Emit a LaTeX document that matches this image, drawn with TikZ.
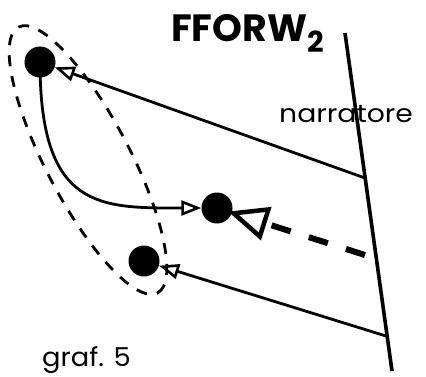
\documentclass[tikz,border=0pt]{standalone}
\usepackage{fontspec}
\setmainfont{Poppins}
\usetikzlibrary{arrows.meta,shapes.geometric,positioning}
\tikzset{
  dot/.style={circle,fill=black,inner sep=0pt,minimum size=31pt},
  link/.style={line width=2.8pt,-{Triangle[open,length=20pt,width=15pt,line width=2.6pt]}},
  flash/.style={line width=6pt,dash pattern=on 20pt off 19pt,shorten >=-4pt,-{Triangle[open,length=40pt,width=34pt,line width=4.5pt]}},
  ring/.style={draw,ellipse,line width=2.8pt,dash pattern=on 11pt off 10pt,inner sep=0pt},
  narr/.style={line width=3.6pt},
}
\begin{document}
\begin{tikzpicture}[x=1pt,y=-1pt]
\useasboundingbox (0,0) rectangle (426,376);

\node[ring,rotate=-62.4,minimum width=300pt,minimum height=84pt] (group) at (88,160) {};

\coordinate (narrtop) at (345,33);
\coordinate (narrbot) at (392,371);
\draw[narr] (narrtop) -- (narrbot);

\coordinate (n1) at (365,178);
\coordinate (n2) at (386,336);
\coordinate (d1) at (365,255);

\node[dot] (p1) at (40,62) {};
\node[dot] (p2) at (217,208) {};
\node[dot] (p3) at (144,261) {};

\draw[link] (n1) -- (p1);
\draw[link] (n2) -- (p3);
\draw[link] (p1.center) .. controls +(0,148) and +(-117,0) .. (p2);
\draw[flash] (d1) -- (p2);

\node[anchor=base west,inner sep=0pt,font=\fontsize{38}{38}\selectfont\bfseries] (title) at (171,41) {FFORW\raisebox{-0.3em}{\fontsize{29}{29}\selectfont 2}};
\node[anchor=base west,inner sep=0pt,font=\fontsize{25}{25}\selectfont] (narrlabel) at (279,122) {\scalebox{1.13}[1]{narratore}};
\node[anchor=base west,inner sep=0pt,font=\fontsize{26}{26}\selectfont] (caption) at (42,366) {\scalebox{1.05}[1]{graf. 5}};
\end{tikzpicture}
\end{document}
